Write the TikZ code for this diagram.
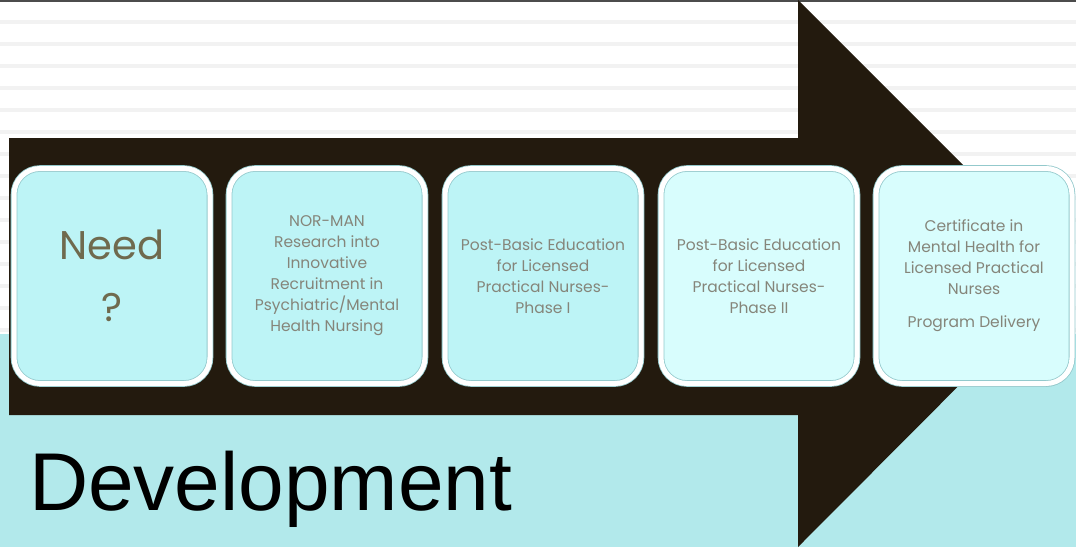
\documentclass[tikz,border=0pt]{standalone}
\usepackage{fontspec}
\setmainfont{Liberation Sans}
\newfontfamily\boxfont{Poppins}
\usetikzlibrary{shadows}

\definecolor{arrowbrown}{HTML}{231A0E}
\definecolor{bandcyan}{HTML}{B2E9EB}
\definecolor{stripegray}{HTML}{F2F2F2}
\definecolor{boxcyan}{HTML}{BDF4F6}
\definecolor{boxpale}{HTML}{D8FDFD}
\definecolor{rimcyan}{HTML}{93C9CC}
\definecolor{needtext}{HTML}{6F6A4E}
\definecolor{steptext}{HTML}{85857A}

\tikzset{
  stagebox/.style={rectangle, rounded corners=26pt, minimum width=196pt, minimum height=215pt,
    fill=boxcyan, draw=rimcyan, double=white, double distance=5pt, line width=0.8pt,
    align=center, text=steptext, font=\boxfont\fontsize{15.5}{21}\selectfont,
    drop shadow={shadow xshift=1pt, shadow yshift=-3pt, opacity=0.4}},
}

\begin{document}
\begin{tikzpicture}[x=1pt, y=-1pt]
    \useasboundingbox (0,0) rectangle (1076,547);

    % Striped background
    \fill[white] (0,0) rectangle (1076,334);
    \foreach \y in {20,42,...,330}
        \fill[stripegray] (0,\y) rectangle (1076,\y+4);
    \draw[black!70, line width=1.5pt] (0,0.75) -- (1076,0.75);

    % Cyan band
    \fill[bandcyan] (0,334) rectangle (1076,547);

    % Big arrow
    \fill[arrowbrown] (9,138) -- (798,138) -- (798,0) -- (1071,273)
        -- (798,547) -- (798,415) -- (9,415) -- cycle;

    % Stages
    \node[stagebox, text=needtext, font=\boxfont\fontsize{40}{62}\selectfont] (need) at (112,276) {Need\\?};
    \node[stagebox] (research) at (327,276) {NOR-MAN\\Research into\\Innovative\\Recruitment in\\Psychiatric/Mental\\Health Nursing};
    \node[stagebox] (phaseone) at (543,276) {Post-Basic Education\\for Licensed\\Practical Nurses-\\Phase I};
    \node[stagebox, fill=boxpale] (phasetwo) at (759,276) {Post-Basic Education\\for Licensed\\Practical Nurses-\\Phase II};
    \node[stagebox, fill=boxpale] (certificate) at (974,276) {Certificate in\\Mental Health for\\Licensed Practical\\Nurses\\[12pt]Program Delivery};

    % Title
    \node[anchor=base west, inner sep=0pt, font=\fontsize{82}{90}\selectfont] (title) at (29,510) {Development};
\end{tikzpicture}
\end{document}
